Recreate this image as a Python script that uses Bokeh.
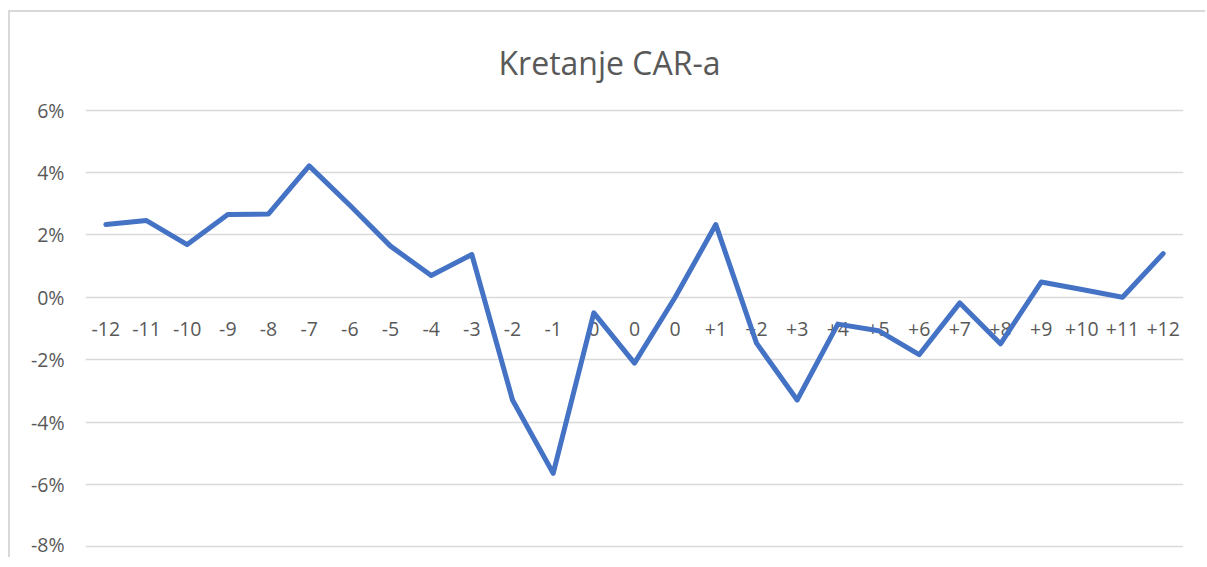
from bokeh.plotting import figure
from bokeh.models import Range1d, FixedTicker, ColumnDataSource
from bokeh.core.properties import value
from bokeh.embed import file_html
from bokeh.resources import INLINE

# Data
categories = ["-12", "-11", "-10", "-9", "-8", "-7", "-6", "-5", "-4", "-3", "-2", "-1",
              "0", "0", "0",
              "+1", "+2", "+3", "+4", "+5", "+6", "+7", "+8", "+9", "+10", "+11", "+12"]
car_values = [2.33, 2.46, 1.69, 2.65, 2.67, 4.21, 2.95, 1.64, 0.70, 1.37, -3.29, -5.64,
              -0.50, -2.11, 0.0,
              2.33, -1.47, -3.29, -0.86, -1.07, -1.84, -0.18, -1.49, 0.49, 0.25, 0.0, 1.40]
y_ticks = [-8, -6, -4, -2, 0, 2, 4, 6]
y_tick_labels = {t: f"{t}%" for t in y_ticks}
title_text = "Kretanje CAR-a"

xs = list(range(len(categories)))
src = ColumnDataSource(dict(x=xs, y=car_values, label=categories, zero=[0.0] * len(xs)))

p = figure(width=1197, height=547, output_backend="svg", toolbar_location=None,
           x_range=Range1d(-0.5, len(categories) - 0.5), y_range=Range1d(-8.05, 6.05),
           x_axis_location=None, title=title_text,
           min_border_left=75, min_border_right=24, min_border_top=96, min_border_bottom=11)
p.styles = {"border-left": "2px solid #d9d9d9", "border-top": "2px solid #d9d9d9",
            "margin-top": "10px", "margin-left": "8px"}
p.outline_line_color = None
p.background_fill_color = "white"
p.border_fill_color = "white"

p.title.align = "left"
p.title.offset = 413
p.title.standoff = 50
p.title.text_font = "Open Sans"
p.title.text_font_size = "32px"
p.title.text_font_style = "normal"
p.title.text_color = "#595959"

p.xgrid.visible = False
p.ygrid.grid_line_color = "#d9d9d9"
p.ygrid.grid_line_width = 1.5
p.ygrid.ticker = FixedTicker(ticks=y_ticks)

ya = p.yaxis[0]
ya.ticker = FixedTicker(ticks=y_ticks)
ya.major_label_overrides = y_tick_labels
ya.axis_line_color = None
ya.major_tick_line_color = None
ya.minor_tick_line_color = None
ya.major_label_standoff = 15
ya.major_label_text_font = "Open Sans"
ya.major_label_text_font_size = "19.5px"
ya.major_label_text_color = "#595959"

# Category labels along the zero line
p.text(x="x", y="zero", text="label", source=src, text_align="center", text_baseline="middle",
       y_offset=32, text_font=value("Open Sans"), text_font_size="19.5px", text_color="#595959")

p.line(x="x", y="y", source=src, line_color="#4472C4", line_width=5, line_join="round", line_cap="round")

open("out.html", "w").write(file_html(p, INLINE))
